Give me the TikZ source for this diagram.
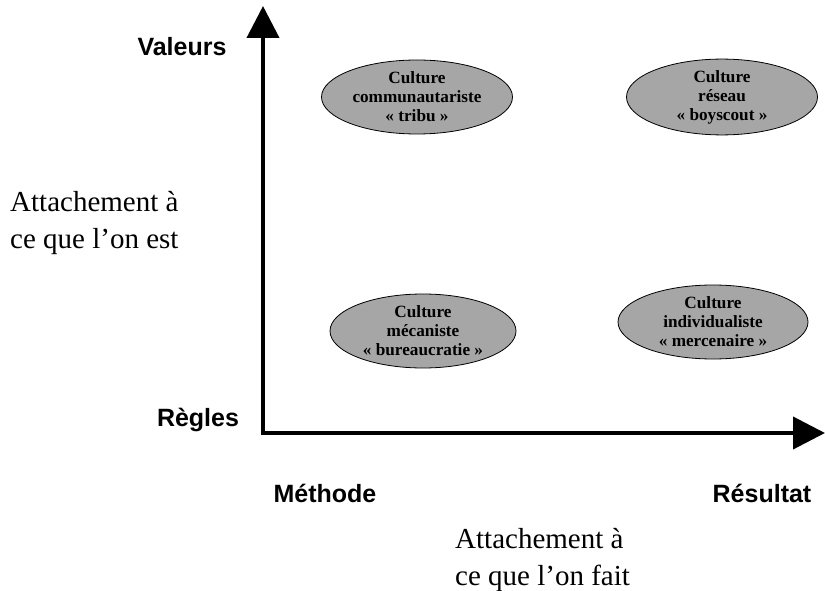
\documentclass[tikz,border=0pt]{standalone}
\usepackage{fontspec}
\setmainfont{Liberation Serif}
\setsansfont{Liberation Sans}
\usetikzlibrary{arrows.meta,shapes.geometric}
\begin{document}
\begin{tikzpicture}[x=1bp,y=-1bp,
  cult/.style={ellipse,draw=black,line width=0.8bp,fill=black!35,
    minimum width=191bp,minimum height=74bp,inner sep=0pt,align=center,
    font=\fontsize{17.2bp}{19bp}\selectfont\bfseries},
  axlabel/.style={font=\fontsize{25bp}{29bp}\selectfont\sffamily\bfseries},
  side/.style={align=left,font=\fontsize{29bp}{37bp}\selectfont,inner sep=0pt},
  tip/.style={Triangle[width=32bp,length=32bp]}
]
\useasboundingbox (0,0) rectangle (825,591);
\coordinate (top) at (263,6);
\coordinate (origin) at (263,433);
\coordinate (right) at (825,433);
\draw[line width=4bp,line join=miter,{Triangle[width=32bp,length=32bp]}-{Triangle[width=32bp,length=32bp]}]
  (top) -- (origin) -- (right);
\node[cult] (tl) at (417,97) {Culture\\communautariste\\« tribu »};
\node[cult] (tr) at (722,97) {Culture\\réseau\\« boyscout »};
\node[cult,minimum width=186bp] (bl) at (423,331) {Culture\\mécaniste\\« bureaucratie »};
\node[cult,minimum width=190bp] (br) at (713,322) {Culture\\individualiste\\« mercenaire »};
\node[axlabel] (val) at (182,47) {Valeurs};
\node[axlabel] (reg) at (198,420) {Règles};
\node[axlabel] (met) at (325,493) {Méthode};
\node[axlabel] (res) at (762,493) {Résultat};
\node[side,anchor=north west] (est) at (10,191) {Attachement à\\ce que l’on est};
\node[side,anchor=north west] (fait) at (455,528) {Attachement à\\ce que l’on fait};
\end{tikzpicture}
\end{document}
